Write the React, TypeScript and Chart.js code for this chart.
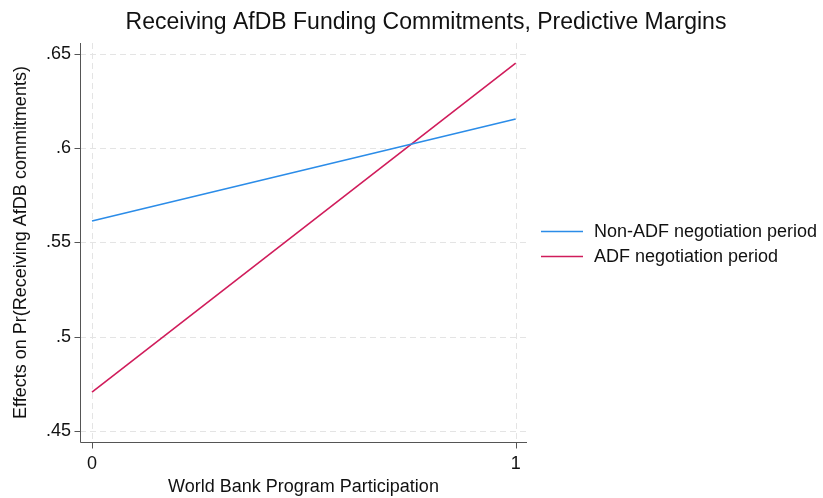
import React, { useEffect, useRef } from "react";
import { Chart, registerables } from "chart.js";

Chart.register(...registerables);

const xValues = [0, 1];
const nonAdf = [0.5614, 0.6155];
const adf = [0.4706, 0.6451];
const yTicks = [0.45, 0.5, 0.55, 0.6, 0.65];
const xTicks = [0, 1];
const seriesLabels = ["Non-ADF negotiation period", "ADF negotiation period"];
const seriesColors = ["#2b8ce8", "#d01c5b"];
const titleText = "Receiving AfDB Funding Commitments, Predictive Margins";
const xTitle = "World Bank Program Participation";
const yTitle = "Effects on Pr(Receiving AfDB commitments)";

const FONT = "'Liberation Sans', Arial, Helvetica, sans-serif";

const fmtY = (v: number) => {
  const s = String(Math.round(v * 100) / 100);
  return s.startsWith("0") ? s.slice(1) : s;
};

const decor = {
  id: "decor",
  beforeDatasetsDraw(chart: any) {
    const { ctx, chartArea, scales } = chart;
    const x = scales.x, y = scales.y;
    ctx.save();
    ctx.strokeStyle = "#e4e4e4";
    ctx.lineWidth = 1;
    ctx.setLineDash([6, 4]);
    for (const t of yTicks) {
      const py = Math.round(y.getPixelForValue(t)) + 0.5;
      ctx.beginPath();
      ctx.moveTo(chartArea.left, py);
      ctx.lineTo(chartArea.right, py);
      ctx.stroke();
    }
    for (const t of xTicks) {
      const px = Math.round(x.getPixelForValue(t)) + 0.5;
      ctx.beginPath();
      ctx.moveTo(px, chartArea.top);
      ctx.lineTo(px, chartArea.bottom);
      ctx.stroke();
    }
    ctx.setLineDash([]);
    ctx.strokeStyle = "#555";
    ctx.lineWidth = 1;
    const L = Math.round(chartArea.left) + 0.5;
    const B = Math.round(chartArea.bottom) + 0.5;
    ctx.beginPath();
    ctx.moveTo(L, chartArea.top);
    ctx.lineTo(L, B);
    ctx.lineTo(chartArea.right, B);
    ctx.stroke();
    for (const t of yTicks) {
      const py = Math.round(y.getPixelForValue(t)) + 0.5;
      ctx.beginPath();
      ctx.moveTo(L - 6, py);
      ctx.lineTo(L, py);
      ctx.stroke();
    }
    for (const t of xTicks) {
      const px = Math.round(x.getPixelForValue(t)) + 0.5;
      ctx.beginPath();
      ctx.moveTo(px, B);
      ctx.lineTo(px, B + 6);
      ctx.stroke();
    }
    ctx.restore();
  },
  afterDraw(chart: any) {
    const { ctx, chartArea } = chart;
    ctx.save();
    ctx.fillStyle = "#111";
    ctx.textAlign = "center";
    ctx.textBaseline = "middle";
    ctx.font = `23px ${FONT}`;
    ctx.fillText(titleText, 426, 23);
    ctx.font = `18px ${FONT}`;
    ctx.fillText(xTitle, (chartArea.left + chartArea.right) / 2, 487);
    ctx.save();
    ctx.translate(21, (chartArea.top + chartArea.bottom) / 2);
    ctx.rotate(-Math.PI / 2);
    ctx.fillText(yTitle, 0, 0);
    ctx.restore();
    // legend
    ctx.textAlign = "left";
    chart.data.datasets.forEach((ds: any, i: number) => {
      const cy = 231 + i * 25;
      ctx.strokeStyle = ds.borderColor;
      ctx.lineWidth = 1.5;
      ctx.beginPath();
      ctx.moveTo(541, cy + 0.5);
      ctx.lineTo(583, cy + 0.5);
      ctx.stroke();
      ctx.fillStyle = "#111";
      ctx.fillText(ds.label, 594, cy + 1);
    });
    ctx.restore();
  },
};

export default function App() {
  const ref = useRef<HTMLCanvasElement>(null);
  useEffect(() => {
    document.body.style.margin = "0";
    const chart = new Chart(ref.current!, {
      type: "line",
      data: {
        datasets: [
          {
            label: seriesLabels[0],
            data: xValues.map((x, i) => ({ x, y: nonAdf[i] })),
            borderColor: seriesColors[0],
            borderWidth: 1.6,
            pointRadius: 0,
            fill: false,
          },
          {
            label: seriesLabels[1],
            data: xValues.map((x, i) => ({ x, y: adf[i] })),
            borderColor: seriesColors[1],
            borderWidth: 1.6,
            pointRadius: 0,
            fill: false,
          },
        ],
      },
      options: {
        animation: false,
        responsive: false,
        maintainAspectRatio: false,
        layout: { padding: { left: 0, right: 296, top: 43, bottom: 0 } },
        plugins: { legend: { display: false }, title: { display: false }, tooltip: { enabled: false } },
        scales: {
          x: {
            type: "linear",
            min: -0.0283,
            max: 1.0267,
            grid: { display: false },
            border: { display: false },
            afterBuildTicks: (s: any) => { s.ticks = xTicks.map((v) => ({ value: v })); },
            afterFit: (s: any) => { s.height = 56; },
            ticks: { color: "#111", font: { family: FONT, size: 18 }, padding: 3, maxRotation: 0 },
          },
          y: {
            type: "linear",
            min: 0.4442,
            max: 0.6558,
            grid: { display: false },
            border: { display: false },
            afterBuildTicks: (s: any) => { s.ticks = yTicks.map((v) => ({ value: v })); },
            afterFit: (s: any) => { s.width = 80; },
            ticks: {
              color: "#111",
              font: { family: FONT, size: 18 },
              padding: 1,
              callback: (v: any) => fmtY(Number(v)),
            },
          },
        },
      },
      plugins: [decor],
    });
    return () => chart.destroy();
  }, []);
  return (
    <div style={{ position: "fixed", left: 0, top: 0, width: 823, height: 498, background: "#fff" }}>
      <canvas ref={ref} width={823} height={498} />
    </div>
  );
}
